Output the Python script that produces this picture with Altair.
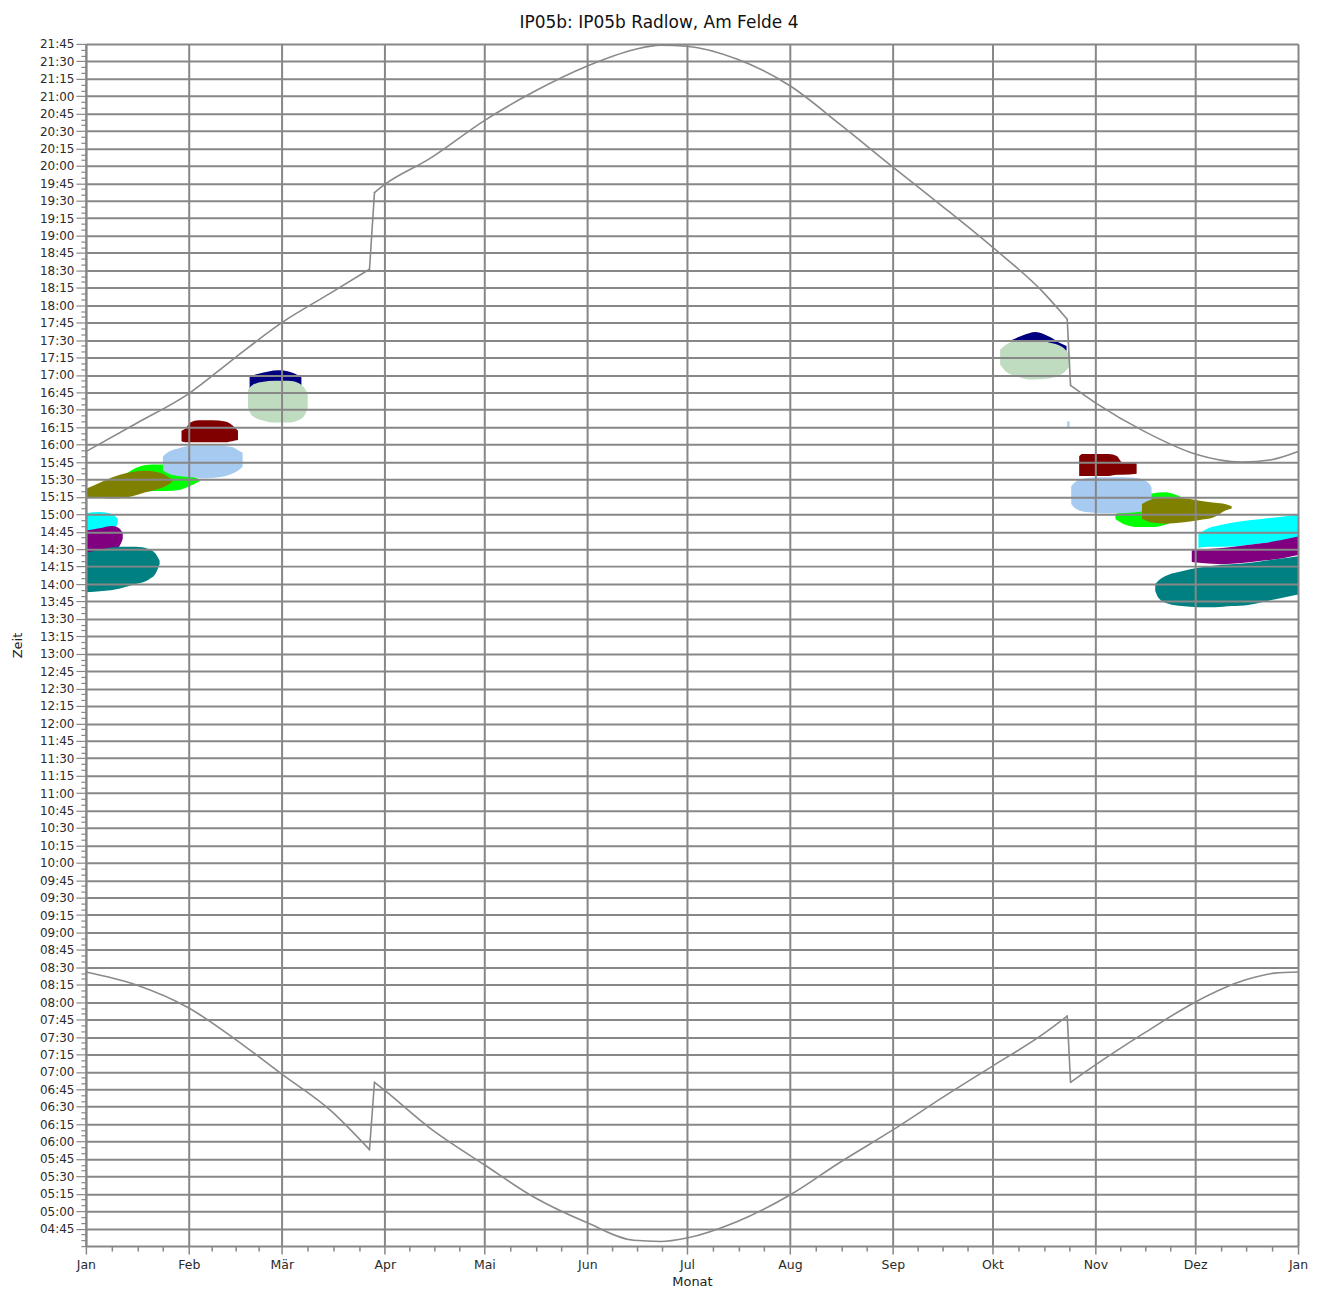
import json
import altair as alt
import pandas as pd

TITLE = "IP05b: IP05b Radlow, Am Felde 4"
X_TITLE = "Monat"
Y_TITLE = "Zeit"

MONTH_LABELS = ["Jan", "Feb", "Mär", "Apr", "Mai", "Jun", "Jul", "Aug", "Sep", "Okt", "Nov", "Dez", "Jan"]
MONTH_START = [0, 31, 59, 90, 120, 151, 181, 212, 243, 273, 304, 334, 365]

# astronomical sunset / sunrise (minutes after midnight)
SUNSET_DAY = [0, 15, 31, 45, 59, 73.4, 85.4, 86.9, 90, 103.4, 120, 135, 151, 165, 173, 181,
              196, 212, 227, 243, 258, 273, 288, 295.5, 296.5, 304, 319, 334, 348, 357, 365]
SUNSET_MIN = [954, 978, 1004, 1035, 1065, 1090, 1111, 1177, 1184, 1206, 1239, 1264, 1286, 1300, 1304, 1303,
              1292, 1269, 1236, 1199, 1165, 1130, 1092, 1068, 1011, 996, 971, 952, 945, 947, 954]
SUNRISE_DAY = [0, 15, 31, 45, 59, 74, 85.4, 86.9, 90, 103.4, 120, 135, 151, 165, 173, 181,
               196, 212, 227, 243, 258, 273, 288, 295.5, 296.5, 304, 319, 334, 349, 358, 365]
SUNRISE_MIN = [506, 495, 475, 448, 418, 386, 353, 411, 404, 372, 340, 312, 290, 275, 274, 277,
               291, 314, 342, 370, 398, 425, 452, 468, 411, 426, 454, 480, 499, 505, 506]

# shadow periods per turbine: day of year, start and end minute
NAVY_A_DAY = [49.3, 52, 55, 58, 61, 63, 64.9]
NAVY_A_LO = [1005, 1005, 1005, 1005, 1005, 1005, 1005]
NAVY_A_HI = [1019, 1021, 1023, 1024, 1023, 1021, 1018]
PALE_A_DAY = [48.8, 50, 53, 57, 61, 64, 66, 66.8]
PALE_A_LO = [992, 985, 981, 979, 979, 981, 986, 992]
PALE_A_HI = [1007, 1011, 1014, 1015, 1015, 1013, 1008, 1004]

NAVY_B_DAY = [278.8, 282, 286, 290, 293, 295.3]
NAVY_B_LO = [1042, 1042, 1042, 1041, 1040, 1039]
NAVY_B_HI = [1050, 1054, 1057, 1053, 1048, 1045]
PALE_B_DAY = [275.3, 277, 280, 285, 290, 294, 296.4]
PALE_B_LO = [1029, 1023, 1019, 1016, 1017, 1021, 1028]
PALE_B_HI = [1042, 1046, 1049, 1050, 1048, 1044, 1037]

LIME_A_DAY = [12, 16, 20, 24, 28, 31, 34.3]
LIME_A_LO = [918, 919, 920, 920, 921, 924, 928.5]
LIME_A_HI = [935, 941, 943, 943, 938, 934, 930]
LIME_B_DAY = [310, 313, 317, 321, 325, 328, 331]
LIME_B_LO = [896, 891, 889, 889, 891, 895, 900]
LIME_B_HI = [900, 905, 912, 918, 919, 917, 913]

LBLUE_A_DAY = [23.2, 25, 28, 32, 36, 40, 44, 46, 47.2]
LBLUE_A_LO = [938, 935, 933, 932, 931, 932, 935, 938, 941]
LBLUE_A_HI = [950, 954, 957, 959, 959, 959, 958, 955, 953]
LBLUE_B_DAY = [296.7, 298, 301, 306, 312, 317, 320, 320.9]
LBLUE_B_LO = [909, 905, 902, 901, 901, 902, 906, 910]
LBLUE_B_HI = [924, 928, 931, 932, 932, 931, 927, 923]
LBLUE_C_DAY = [295.5, 296.2]
LBLUE_C_LO = [975, 975]
LBLUE_C_HI = [980, 980]

OLIVE_A_DAY = [0, 4, 8, 13, 18, 22, 25, 26]
OLIVE_A_LO = [915, 914, 913.6, 915, 919, 922, 926, 928]
OLIVE_A_HI = [922, 927, 932, 936, 937.5, 936, 932, 930]
OLIVE_B_DAY = [318, 321, 325, 330, 335, 340, 343, 345]
OLIVE_B_LO = [896, 893, 892, 893, 895, 898, 903, 905]
OLIVE_B_HI = [909, 913, 915, 914, 912, 910, 909, 907]

MAROON_A_DAY = [28.8, 30, 31.5, 34, 38, 42, 44, 45.8]
MAROON_A_LO = [963, 962, 962, 962, 962, 962, 963, 964]
MAROON_A_HI = [972, 974, 979, 981, 981, 980, 977, 972]
MAROON_B_DAY = [299.1, 300, 304, 308, 310.5, 312, 316.4]
MAROON_B_LO = [933, 933, 933, 933, 934, 934, 935]
MAROON_B_HI = [950, 952, 952, 952, 950, 945, 944]

CYAN_A_DAY = [0, 4, 7, 9, 9.6]
CYAN_A_LO = [882, 884, 886, 889, 893]
CYAN_A_HI = [901, 902, 901, 898, 896]
CYAN_B_DAY = [335, 338, 342, 348, 354, 360, 365]
CYAN_B_LO = [871, 872, 872, 873, 875, 877, 879]
CYAN_B_HI = [883, 888, 891, 894, 896, 898, 900]

PURPLE_A_DAY = [0, 4, 8, 10, 11.1]
PURPLE_A_LO = [864, 866, 868, 872, 879]
PURPLE_A_HI = [886, 888, 890, 888, 884]
PURPLE_B_DAY = [333, 336, 342, 348, 354, 360, 365]
PURPLE_B_LO = [859, 858, 857, 858, 860, 862, 865]
PURPLE_B_HI = [870, 870, 871, 873, 875, 878, 881]

TEAL_A_DAY = [0, 5, 10, 15, 19, 21, 22.2]
TEAL_A_LO = [833, 834, 836, 840, 844, 849, 857]
TEAL_A_HI = [867, 870, 872, 872, 870, 866, 860]
TEAL_B_DAY = [322, 323, 326, 330, 335, 340, 345, 350, 355, 360, 365]
TEAL_B_LO = [834, 828, 823, 821, 820, 820, 821, 822, 825, 828, 831]
TEAL_B_HI = [840, 843, 848, 851, 854, 856, 857, 858, 860, 862, 864]

# draw order and colours
BLOBS = [
    ("#000080", NAVY_A_DAY, NAVY_A_LO, NAVY_A_HI),
    ("#C0DCC0", PALE_A_DAY, PALE_A_LO, PALE_A_HI),
    ("#000080", NAVY_B_DAY, NAVY_B_LO, NAVY_B_HI),
    ("#C0DCC0", PALE_B_DAY, PALE_B_LO, PALE_B_HI),
    ("#00FF00", LIME_A_DAY, LIME_A_LO, LIME_A_HI),
    ("#00FF00", LIME_B_DAY, LIME_B_LO, LIME_B_HI),
    ("#A6CAF0", LBLUE_A_DAY, LBLUE_A_LO, LBLUE_A_HI),
    ("#A6CAF0", LBLUE_B_DAY, LBLUE_B_LO, LBLUE_B_HI),
    ("#A6CAF0", LBLUE_C_DAY, LBLUE_C_LO, LBLUE_C_HI),
    ("#808000", OLIVE_A_DAY, OLIVE_A_LO, OLIVE_A_HI),
    ("#808000", OLIVE_B_DAY, OLIVE_B_LO, OLIVE_B_HI),
    ("#800000", MAROON_A_DAY, MAROON_A_LO, MAROON_A_HI),
    ("#800000", MAROON_B_DAY, MAROON_B_LO, MAROON_B_HI),
    ("#00FFFF", CYAN_A_DAY, CYAN_A_LO, CYAN_A_HI),
    ("#00FFFF", CYAN_B_DAY, CYAN_B_LO, CYAN_B_HI),
    ("#800080", PURPLE_A_DAY, PURPLE_A_LO, PURPLE_A_HI),
    ("#800080", PURPLE_B_DAY, PURPLE_B_LO, PURPLE_B_HI),
    ("#008080", TEAL_A_DAY, TEAL_A_LO, TEAL_A_HI),
    ("#008080", TEAL_B_DAY, TEAL_B_LO, TEAL_B_HI),
]

GRID = "#878787"
FONT = "DejaVu Sans"

x_ticks = sorted(set(MONTH_START + [s + (e - s) * k / 4 for s, e in zip(MONTH_START[:-1], MONTH_START[1:]) for k in (1, 2, 3)]))
y_ticks = list(range(270, 1306, 5))

ms = json.dumps(MONTH_START)
ml = json.dumps(MONTH_LABELS, ensure_ascii=False)
month_test = f"indexof({ms}, datum.value) >= 0"
quarter_test = "datum.value % 15 == 0 && datum.value >= 285"

x_scale = alt.Scale(domain=[0, 365], nice=False, zero=False)
y_scale = alt.Scale(domain=[270, 1305], nice=False, zero=False)

x_axis = alt.Axis(
    values=x_ticks,
    title=X_TITLE,
    labelExpr=f"{month_test} ? {ml}[indexof({ms}, datum.value)] : ''",
    labelOverlap=False, labelFlush=False,
    labelFont=FONT, labelFontSize=12.5, labelColor="#2b2b2b", labelPadding=4,
    tickSize={"condition": {"test": month_test, "value": 8}, "value": 5},
    tickColor=GRID, tickWidth=1.5,
    grid=True, gridColor=GRID, gridWidth=2,
    gridOpacity={"condition": {"test": month_test, "value": 1}, "value": 0},
    domainColor=GRID, domainWidth=2,
    titleFont=FONT, titleFontSize=13, titleFontWeight="normal", titleColor="#222222",
    titleY=35, titleBaseline="middle",
    zindex=1,
)
y_axis = alt.Axis(
    values=y_ticks,
    title=Y_TITLE,
    labelExpr=(f"{quarter_test} ? ((floor(datum.value/60) < 10 ? '0' : '') + floor(datum.value/60) + ':' + "
               "(datum.value % 60 < 10 ? '0' : '') + (datum.value % 60)) : ''"),
    labelOverlap=False, labelFlush=False,
    labelFont=FONT, labelFontSize=12, labelColor="#2b2b2b", labelPadding=2,
    tickSize={"condition": {"test": quarter_test, "value": 10}, "value": 5},
    tickColor=GRID, tickWidth=1.2,
    grid=True, gridColor=GRID, gridWidth=2,
    gridOpacity={"condition": {"test": quarter_test, "value": 1}, "value": 0},
    domainColor=GRID, domainWidth=2,
    titleFont=FONT, titleFontSize=13, titleFontWeight="normal", titleColor="#222222",
    titleX=-68, titleY=602, titleAngle=270, titleAlign="center", titleBaseline="middle",
    zindex=1,
)

layers = []
for color, days, lo, hi in BLOBS:
    df = pd.DataFrame({"day": days, "lo": lo, "hi": hi})
    layers.append(
        alt.Chart(df).mark_area(color=color, interpolate="monotone", opacity=1).encode(
            x=alt.X("day:Q", scale=x_scale, axis=x_axis),
            y=alt.Y("lo:Q", scale=y_scale, axis=y_axis),
            y2="hi:Q",
        )
    )


def split_segments(days, mins):
    """Split a curve at its daylight-saving jumps: smooth pieces and straight jump pieces."""
    jumps = [i for i in range(len(days) - 1) if days[i + 1] - days[i] < 2]
    pieces, start = [], 0
    for j in jumps:
        pieces.append(("monotone", days[start:j + 1], mins[start:j + 1]))
        pieces.append(("linear", days[j:j + 2], mins[j:j + 2]))
        start = j + 1
    pieces.append(("monotone", days[start:], mins[start:]))
    return pieces


for days, mins in ((SUNSET_DAY, SUNSET_MIN), (SUNRISE_DAY, SUNRISE_MIN)):
    for interp, d, m in split_segments(days, mins):
        df = pd.DataFrame({"day": d, "lo": m})
        layers.append(
            alt.Chart(df).mark_line(color="#8a8a8a", strokeWidth=1.6, interpolate=interp,
                                    strokeCap="round").encode(
                x=alt.X("day:Q", scale=x_scale, axis=x_axis),
                y=alt.Y("lo:Q", scale=y_scale, axis=y_axis),
            )
        )

chart = alt.layer(*layers).properties(
    width=1214,
    height=1204,
    title=alt.TitleParams(TITLE, font=FONT, fontSize=17, fontWeight="normal", color="#111111",
                          anchor="middle", dx=-33, offset=6),
    autosize=alt.AutoSizeParams(type="none"),
    padding={"left": 78, "top": 35, "right": 20, "bottom": 43},
).configure_view(stroke=None).configure(background="white")

chart.save("out.html", embed_options={"renderer": "svg", "actions": False})
